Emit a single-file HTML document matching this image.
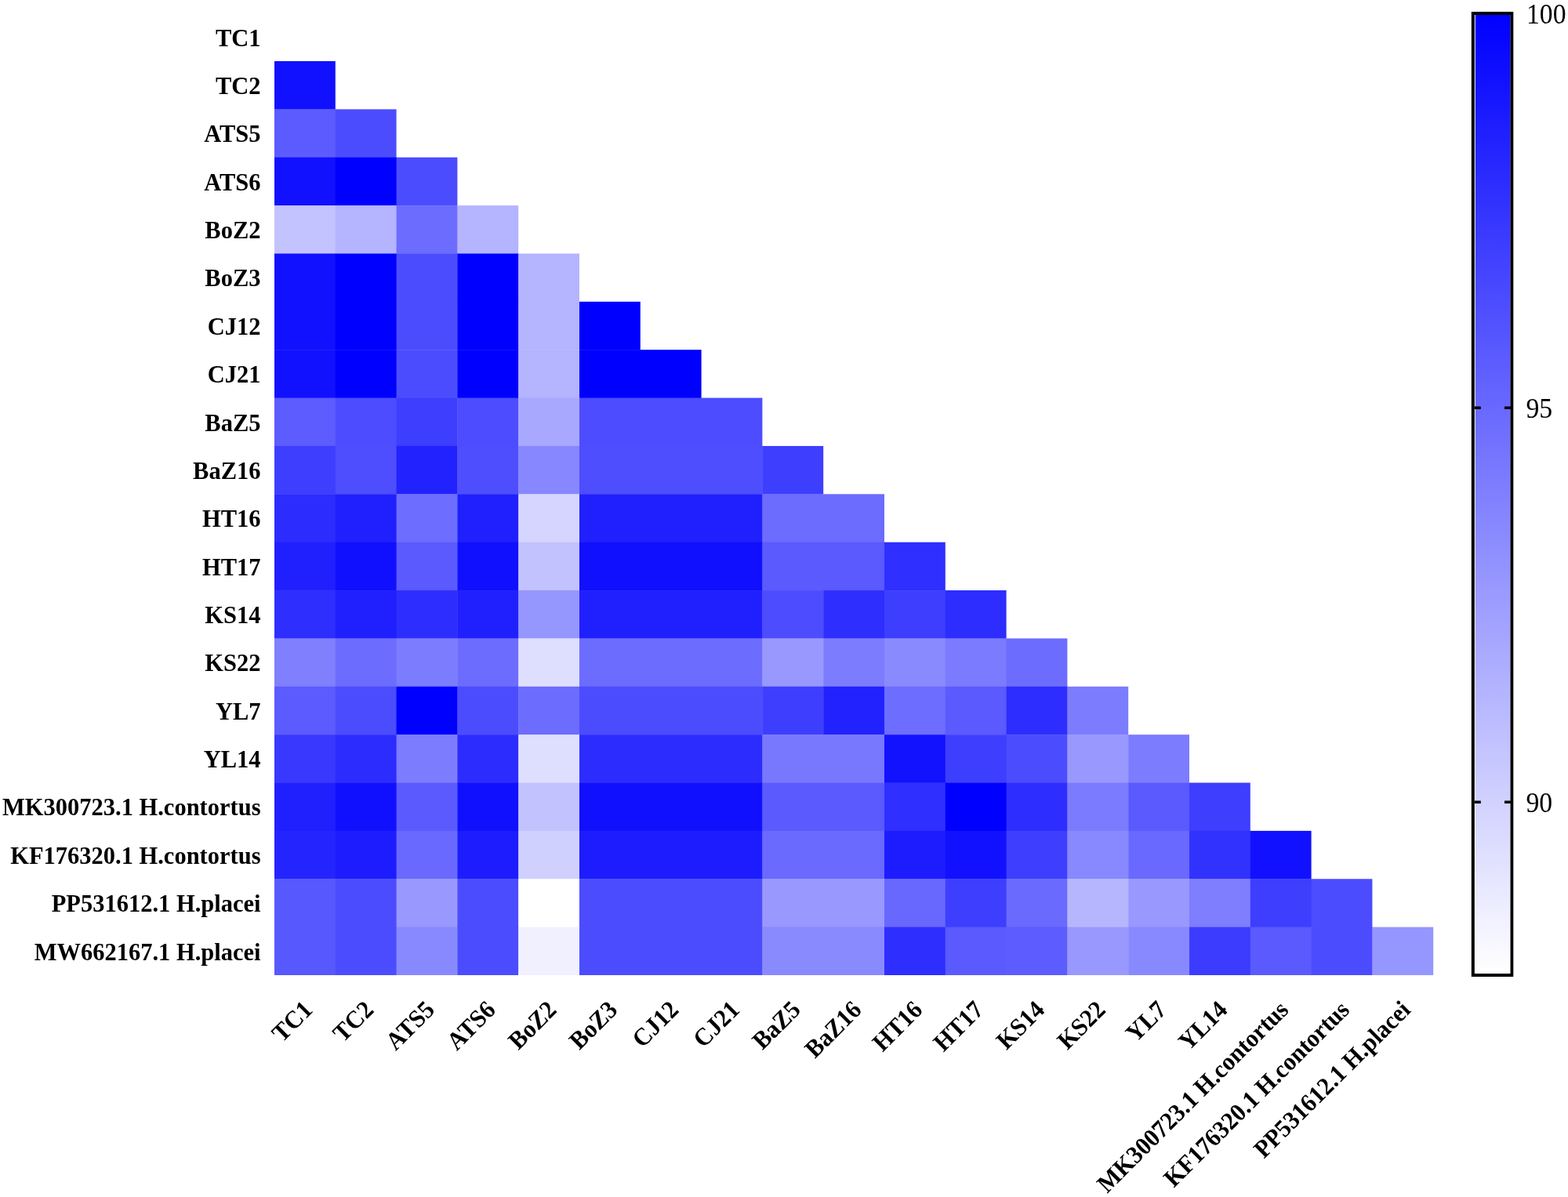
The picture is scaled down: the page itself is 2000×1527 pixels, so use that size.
<!DOCTYPE html>
<html><head><meta charset="utf-8"><style>
html,body{margin:0;padding:0;background:#fff;}
body{width:2000px;height:1527px;overflow:hidden;}
svg{display:block;}
.b{font-family:"Liberation Serif","Times New Roman",serif;font-weight:bold;font-size:32px;fill:#000;}
.r{font-family:"Liberation Serif","Times New Roman",serif;font-size:35.5px;fill:#000;}
</style></head><body>
<svg width="2000" height="1527" viewBox="0 0 2000 1527">
<defs><linearGradient id="cb" x1="0" y1="0" x2="0" y2="1"><stop offset="0" stop-color="#0000ff"/><stop offset="1" stop-color="#ffffff"/></linearGradient></defs>
<rect x="0" y="0" width="2000" height="1527" fill="#fff"/>
<rect x="350.00" y="78.00" width="77.80" height="61.77" fill="rgb(17,17,255)"/>
<rect x="350.00" y="139.37" width="78.20" height="61.77" fill="rgb(91,91,255)"/>
<rect x="427.80" y="139.37" width="77.80" height="61.77" fill="rgb(76,76,255)"/>
<rect x="350.00" y="200.74" width="78.20" height="61.77" fill="rgb(17,17,255)"/>
<rect x="427.80" y="200.74" width="78.20" height="61.77" fill="rgb(0,0,255)"/>
<rect x="505.60" y="200.74" width="77.80" height="61.77" fill="rgb(76,76,255)"/>
<rect x="350.00" y="262.11" width="78.20" height="61.77" fill="rgb(195,195,255)"/>
<rect x="427.80" y="262.11" width="78.20" height="61.77" fill="rgb(180,180,255)"/>
<rect x="505.60" y="262.11" width="78.20" height="61.77" fill="rgb(108,108,255)"/>
<rect x="583.40" y="262.11" width="77.80" height="61.77" fill="rgb(180,180,255)"/>
<rect x="350.00" y="323.47" width="78.20" height="61.77" fill="rgb(17,17,255)"/>
<rect x="427.80" y="323.47" width="78.20" height="61.77" fill="rgb(0,0,255)"/>
<rect x="505.60" y="323.47" width="78.20" height="61.77" fill="rgb(76,76,255)"/>
<rect x="583.40" y="323.47" width="78.20" height="61.77" fill="rgb(0,0,255)"/>
<rect x="661.20" y="323.47" width="77.80" height="61.77" fill="rgb(180,180,255)"/>
<rect x="350.00" y="384.84" width="78.20" height="61.77" fill="rgb(17,17,255)"/>
<rect x="427.80" y="384.84" width="78.20" height="61.77" fill="rgb(0,0,255)"/>
<rect x="505.60" y="384.84" width="78.20" height="61.77" fill="rgb(76,76,255)"/>
<rect x="583.40" y="384.84" width="78.20" height="61.77" fill="rgb(0,0,255)"/>
<rect x="661.20" y="384.84" width="78.20" height="61.77" fill="rgb(180,180,255)"/>
<rect x="739.00" y="384.84" width="77.80" height="61.77" fill="rgb(0,0,255)"/>
<rect x="350.00" y="446.21" width="78.20" height="61.77" fill="rgb(17,17,255)"/>
<rect x="427.80" y="446.21" width="78.20" height="61.77" fill="rgb(0,0,255)"/>
<rect x="505.60" y="446.21" width="78.20" height="61.77" fill="rgb(76,76,255)"/>
<rect x="583.40" y="446.21" width="78.20" height="61.77" fill="rgb(0,0,255)"/>
<rect x="661.20" y="446.21" width="78.20" height="61.77" fill="rgb(180,180,255)"/>
<rect x="739.00" y="446.21" width="155.60" height="61.77" fill="rgb(0,0,255)"/>
<rect x="350.00" y="507.58" width="78.20" height="61.77" fill="rgb(92,92,255)"/>
<rect x="427.80" y="507.58" width="78.20" height="61.77" fill="rgb(77,77,255)"/>
<rect x="505.60" y="507.58" width="78.20" height="61.77" fill="rgb(62,62,255)"/>
<rect x="583.40" y="507.58" width="78.20" height="61.77" fill="rgb(77,77,255)"/>
<rect x="661.20" y="507.58" width="78.20" height="61.77" fill="rgb(168,168,255)"/>
<rect x="739.00" y="507.58" width="233.40" height="61.77" fill="rgb(77,77,255)"/>
<rect x="350.00" y="568.95" width="78.20" height="61.77" fill="rgb(62,62,255)"/>
<rect x="427.80" y="568.95" width="78.20" height="61.77" fill="rgb(78,78,255)"/>
<rect x="505.60" y="568.95" width="78.20" height="61.77" fill="rgb(34,34,255)"/>
<rect x="583.40" y="568.95" width="78.20" height="61.77" fill="rgb(78,78,255)"/>
<rect x="661.20" y="568.95" width="78.20" height="61.77" fill="rgb(135,135,255)"/>
<rect x="739.00" y="568.95" width="233.80" height="61.77" fill="rgb(78,78,255)"/>
<rect x="972.40" y="568.95" width="77.80" height="61.77" fill="rgb(62,62,255)"/>
<rect x="350.00" y="630.32" width="78.20" height="61.77" fill="rgb(44,44,255)"/>
<rect x="427.80" y="630.32" width="78.20" height="61.77" fill="rgb(32,32,255)"/>
<rect x="505.60" y="630.32" width="78.20" height="61.77" fill="rgb(109,109,255)"/>
<rect x="583.40" y="630.32" width="78.20" height="61.77" fill="rgb(32,32,255)"/>
<rect x="661.20" y="630.32" width="78.20" height="61.77" fill="rgb(213,213,255)"/>
<rect x="739.00" y="630.32" width="233.80" height="61.77" fill="rgb(32,32,255)"/>
<rect x="972.40" y="630.32" width="155.60" height="61.77" fill="rgb(108,108,255)"/>
<rect x="350.00" y="691.68" width="78.20" height="61.77" fill="rgb(32,32,255)"/>
<rect x="427.80" y="691.68" width="78.20" height="61.77" fill="rgb(16,16,255)"/>
<rect x="505.60" y="691.68" width="78.20" height="61.77" fill="rgb(90,90,255)"/>
<rect x="583.40" y="691.68" width="78.20" height="61.77" fill="rgb(16,16,255)"/>
<rect x="661.20" y="691.68" width="78.20" height="61.77" fill="rgb(194,194,255)"/>
<rect x="739.00" y="691.68" width="233.80" height="61.77" fill="rgb(16,16,255)"/>
<rect x="972.40" y="691.68" width="156.00" height="61.77" fill="rgb(90,90,255)"/>
<rect x="1128.00" y="691.68" width="77.80" height="61.77" fill="rgb(47,47,255)"/>
<rect x="350.00" y="753.05" width="78.20" height="61.77" fill="rgb(46,46,255)"/>
<rect x="427.80" y="753.05" width="78.20" height="61.77" fill="rgb(32,32,255)"/>
<rect x="505.60" y="753.05" width="78.20" height="61.77" fill="rgb(45,45,255)"/>
<rect x="583.40" y="753.05" width="78.20" height="61.77" fill="rgb(32,32,255)"/>
<rect x="661.20" y="753.05" width="78.20" height="61.77" fill="rgb(150,150,255)"/>
<rect x="739.00" y="753.05" width="233.80" height="61.77" fill="rgb(32,32,255)"/>
<rect x="972.40" y="753.05" width="78.20" height="61.77" fill="rgb(77,77,255)"/>
<rect x="1050.20" y="753.05" width="78.20" height="61.77" fill="rgb(46,46,255)"/>
<rect x="1128.00" y="753.05" width="78.20" height="61.77" fill="rgb(62,62,255)"/>
<rect x="1205.80" y="753.05" width="77.80" height="61.77" fill="rgb(45,45,255)"/>
<rect x="350.00" y="814.42" width="78.20" height="61.77" fill="rgb(128,128,255)"/>
<rect x="427.80" y="814.42" width="78.20" height="61.77" fill="rgb(108,108,255)"/>
<rect x="505.60" y="814.42" width="78.20" height="61.77" fill="rgb(124,124,255)"/>
<rect x="583.40" y="814.42" width="78.20" height="61.77" fill="rgb(108,108,255)"/>
<rect x="661.20" y="814.42" width="78.20" height="61.77" fill="rgb(222,222,255)"/>
<rect x="739.00" y="814.42" width="233.80" height="61.77" fill="rgb(108,108,255)"/>
<rect x="972.40" y="814.42" width="78.20" height="61.77" fill="rgb(152,152,255)"/>
<rect x="1050.20" y="814.42" width="78.20" height="61.77" fill="rgb(124,124,255)"/>
<rect x="1128.00" y="814.42" width="78.20" height="61.77" fill="rgb(138,138,255)"/>
<rect x="1205.80" y="814.42" width="78.20" height="61.77" fill="rgb(123,123,255)"/>
<rect x="1283.60" y="814.42" width="77.80" height="61.77" fill="rgb(108,108,255)"/>
<rect x="350.00" y="875.79" width="78.20" height="61.77" fill="rgb(91,91,255)"/>
<rect x="427.80" y="875.79" width="78.20" height="61.77" fill="rgb(76,76,255)"/>
<rect x="505.60" y="875.79" width="78.20" height="61.77" fill="rgb(0,0,255)"/>
<rect x="583.40" y="875.79" width="78.20" height="61.77" fill="rgb(76,76,255)"/>
<rect x="661.20" y="875.79" width="78.20" height="61.77" fill="rgb(108,108,255)"/>
<rect x="739.00" y="875.79" width="233.80" height="61.77" fill="rgb(76,76,255)"/>
<rect x="972.40" y="875.79" width="78.20" height="61.77" fill="rgb(62,62,255)"/>
<rect x="1050.20" y="875.79" width="78.20" height="61.77" fill="rgb(34,34,255)"/>
<rect x="1128.00" y="875.79" width="78.20" height="61.77" fill="rgb(109,109,255)"/>
<rect x="1205.80" y="875.79" width="78.20" height="61.77" fill="rgb(90,90,255)"/>
<rect x="1283.60" y="875.79" width="78.20" height="61.77" fill="rgb(45,45,255)"/>
<rect x="1361.40" y="875.79" width="77.80" height="61.77" fill="rgb(124,124,255)"/>
<rect x="350.00" y="937.16" width="78.20" height="61.77" fill="rgb(56,56,255)"/>
<rect x="427.80" y="937.16" width="78.20" height="61.77" fill="rgb(44,44,255)"/>
<rect x="505.60" y="937.16" width="78.20" height="61.77" fill="rgb(124,124,255)"/>
<rect x="583.40" y="937.16" width="78.20" height="61.77" fill="rgb(44,44,255)"/>
<rect x="661.20" y="937.16" width="78.20" height="61.77" fill="rgb(222,222,255)"/>
<rect x="739.00" y="937.16" width="233.80" height="61.77" fill="rgb(44,44,255)"/>
<rect x="972.40" y="937.16" width="156.00" height="61.77" fill="rgb(120,120,255)"/>
<rect x="1128.00" y="937.16" width="78.20" height="61.77" fill="rgb(18,18,255)"/>
<rect x="1205.80" y="937.16" width="78.20" height="61.77" fill="rgb(62,62,255)"/>
<rect x="1283.60" y="937.16" width="78.20" height="61.77" fill="rgb(76,76,255)"/>
<rect x="1361.40" y="937.16" width="78.20" height="61.77" fill="rgb(152,152,255)"/>
<rect x="1439.20" y="937.16" width="77.80" height="61.77" fill="rgb(124,124,255)"/>
<rect x="350.00" y="998.53" width="78.20" height="61.77" fill="rgb(32,32,255)"/>
<rect x="427.80" y="998.53" width="78.20" height="61.77" fill="rgb(16,16,255)"/>
<rect x="505.60" y="998.53" width="78.20" height="61.77" fill="rgb(90,90,255)"/>
<rect x="583.40" y="998.53" width="78.20" height="61.77" fill="rgb(16,16,255)"/>
<rect x="661.20" y="998.53" width="78.20" height="61.77" fill="rgb(194,194,255)"/>
<rect x="739.00" y="998.53" width="233.80" height="61.77" fill="rgb(16,16,255)"/>
<rect x="972.40" y="998.53" width="156.00" height="61.77" fill="rgb(90,90,255)"/>
<rect x="1128.00" y="998.53" width="78.20" height="61.77" fill="rgb(47,47,255)"/>
<rect x="1205.80" y="998.53" width="78.20" height="61.77" fill="rgb(0,0,255)"/>
<rect x="1283.60" y="998.53" width="78.20" height="61.77" fill="rgb(45,45,255)"/>
<rect x="1361.40" y="998.53" width="78.20" height="61.77" fill="rgb(123,123,255)"/>
<rect x="1439.20" y="998.53" width="78.20" height="61.77" fill="rgb(90,90,255)"/>
<rect x="1517.00" y="998.53" width="77.80" height="61.77" fill="rgb(62,62,255)"/>
<rect x="350.00" y="1059.89" width="78.20" height="61.77" fill="rgb(36,36,255)"/>
<rect x="427.80" y="1059.89" width="78.20" height="61.77" fill="rgb(28,28,255)"/>
<rect x="505.60" y="1059.89" width="78.20" height="61.77" fill="rgb(105,105,255)"/>
<rect x="583.40" y="1059.89" width="78.20" height="61.77" fill="rgb(28,28,255)"/>
<rect x="661.20" y="1059.89" width="78.20" height="61.77" fill="rgb(208,208,255)"/>
<rect x="739.00" y="1059.89" width="233.80" height="61.77" fill="rgb(28,28,255)"/>
<rect x="972.40" y="1059.89" width="156.00" height="61.77" fill="rgb(106,106,255)"/>
<rect x="1128.00" y="1059.89" width="78.20" height="61.77" fill="rgb(28,28,255)"/>
<rect x="1205.80" y="1059.89" width="78.20" height="61.77" fill="rgb(17,17,255)"/>
<rect x="1283.60" y="1059.89" width="78.20" height="61.77" fill="rgb(62,62,255)"/>
<rect x="1361.40" y="1059.89" width="78.20" height="61.77" fill="rgb(136,136,255)"/>
<rect x="1439.20" y="1059.89" width="78.20" height="61.77" fill="rgb(105,105,255)"/>
<rect x="1517.00" y="1059.89" width="78.20" height="61.77" fill="rgb(50,50,255)"/>
<rect x="1594.80" y="1059.89" width="77.80" height="61.77" fill="rgb(17,17,255)"/>
<rect x="350.00" y="1121.26" width="78.20" height="61.77" fill="rgb(88,88,255)"/>
<rect x="427.80" y="1121.26" width="78.20" height="61.77" fill="rgb(76,76,255)"/>
<rect x="505.60" y="1121.26" width="78.20" height="61.77" fill="rgb(152,152,255)"/>
<rect x="583.40" y="1121.26" width="78.20" height="61.77" fill="rgb(76,76,255)"/>
<rect x="661.20" y="1121.26" width="78.20" height="61.77" fill="rgb(255,255,255)"/>
<rect x="739.00" y="1121.26" width="233.80" height="61.77" fill="rgb(76,76,255)"/>
<rect x="972.40" y="1121.26" width="156.00" height="61.77" fill="rgb(152,152,255)"/>
<rect x="1128.00" y="1121.26" width="78.20" height="61.77" fill="rgb(104,104,255)"/>
<rect x="1205.80" y="1121.26" width="78.20" height="61.77" fill="rgb(62,62,255)"/>
<rect x="1283.60" y="1121.26" width="78.20" height="61.77" fill="rgb(106,106,255)"/>
<rect x="1361.40" y="1121.26" width="78.20" height="61.77" fill="rgb(182,182,255)"/>
<rect x="1439.20" y="1121.26" width="78.20" height="61.77" fill="rgb(152,152,255)"/>
<rect x="1517.00" y="1121.26" width="78.20" height="61.77" fill="rgb(126,126,255)"/>
<rect x="1594.80" y="1121.26" width="78.20" height="61.77" fill="rgb(62,62,255)"/>
<rect x="1672.60" y="1121.26" width="77.80" height="61.77" fill="rgb(76,76,255)"/>
<rect x="350.00" y="1182.63" width="78.20" height="61.37" fill="rgb(88,88,255)"/>
<rect x="427.80" y="1182.63" width="78.20" height="61.37" fill="rgb(76,76,255)"/>
<rect x="505.60" y="1182.63" width="78.20" height="61.37" fill="rgb(137,137,255)"/>
<rect x="583.40" y="1182.63" width="78.20" height="61.37" fill="rgb(76,76,255)"/>
<rect x="661.20" y="1182.63" width="78.20" height="61.37" fill="rgb(240,240,255)"/>
<rect x="739.00" y="1182.63" width="233.80" height="61.37" fill="rgb(76,76,255)"/>
<rect x="972.40" y="1182.63" width="156.00" height="61.37" fill="rgb(138,138,255)"/>
<rect x="1128.00" y="1182.63" width="78.20" height="61.37" fill="rgb(46,46,255)"/>
<rect x="1205.80" y="1182.63" width="78.20" height="61.37" fill="rgb(90,90,255)"/>
<rect x="1283.60" y="1182.63" width="78.20" height="61.37" fill="rgb(92,92,255)"/>
<rect x="1361.40" y="1182.63" width="78.20" height="61.37" fill="rgb(152,152,255)"/>
<rect x="1439.20" y="1182.63" width="78.20" height="61.37" fill="rgb(137,137,255)"/>
<rect x="1517.00" y="1182.63" width="78.20" height="61.37" fill="rgb(60,60,255)"/>
<rect x="1594.80" y="1182.63" width="78.20" height="61.37" fill="rgb(90,90,255)"/>
<rect x="1672.60" y="1182.63" width="78.20" height="61.37" fill="rgb(76,76,255)"/>
<rect x="1750.40" y="1182.63" width="77.80" height="61.37" fill="rgb(150,150,255)"/>
<text transform="translate(332.5,58.5) scale(0.953,1)" text-anchor="end" class="b">TC1</text>
<text transform="translate(332.5,119.9) scale(0.953,1)" text-anchor="end" class="b">TC2</text>
<text transform="translate(332.5,181.3) scale(0.953,1)" text-anchor="end" class="b">ATS5</text>
<text transform="translate(332.5,242.6) scale(0.953,1)" text-anchor="end" class="b">ATS6</text>
<text transform="translate(332.5,304.0) scale(0.953,1)" text-anchor="end" class="b">BoZ2</text>
<text transform="translate(332.5,365.4) scale(0.953,1)" text-anchor="end" class="b">BoZ3</text>
<text transform="translate(332.5,426.7) scale(0.953,1)" text-anchor="end" class="b">CJ12</text>
<text transform="translate(332.5,488.1) scale(0.953,1)" text-anchor="end" class="b">CJ21</text>
<text transform="translate(332.5,549.5) scale(0.953,1)" text-anchor="end" class="b">BaZ5</text>
<text transform="translate(332.5,610.8) scale(0.953,1)" text-anchor="end" class="b">BaZ16</text>
<text transform="translate(332.5,672.2) scale(0.953,1)" text-anchor="end" class="b">HT16</text>
<text transform="translate(332.5,733.6) scale(0.953,1)" text-anchor="end" class="b">HT17</text>
<text transform="translate(332.5,794.9) scale(0.953,1)" text-anchor="end" class="b">KS14</text>
<text transform="translate(332.5,856.3) scale(0.953,1)" text-anchor="end" class="b">KS22</text>
<text transform="translate(332.5,917.7) scale(0.953,1)" text-anchor="end" class="b">YL7</text>
<text transform="translate(332.5,979.0) scale(0.953,1)" text-anchor="end" class="b">YL14</text>
<text transform="translate(332.5,1040.4) scale(0.953,1)" text-anchor="end" class="b">MK300723.1 H.contortus</text>
<text transform="translate(332.5,1101.8) scale(0.953,1)" text-anchor="end" class="b">KF176320.1 H.contortus</text>
<text transform="translate(332.5,1163.1) scale(0.953,1)" text-anchor="end" class="b">PP531612.1 H.placei</text>
<text transform="translate(332.5,1224.5) scale(0.953,1)" text-anchor="end" class="b">MW662167.1 H.placei</text>
<text transform="translate(400.4,1290) rotate(-45) scale(0.953,1)" text-anchor="end" class="b">TC1</text>
<text transform="translate(478.2,1290) rotate(-45) scale(0.953,1)" text-anchor="end" class="b">TC2</text>
<text transform="translate(556.0,1290) rotate(-45) scale(0.953,1)" text-anchor="end" class="b">ATS5</text>
<text transform="translate(633.8,1290) rotate(-45) scale(0.953,1)" text-anchor="end" class="b">ATS6</text>
<text transform="translate(711.6,1290) rotate(-45) scale(0.953,1)" text-anchor="end" class="b">BoZ2</text>
<text transform="translate(789.4,1290) rotate(-45) scale(0.953,1)" text-anchor="end" class="b">BoZ3</text>
<text transform="translate(867.2,1290) rotate(-45) scale(0.953,1)" text-anchor="end" class="b">CJ12</text>
<text transform="translate(945.0,1290) rotate(-45) scale(0.953,1)" text-anchor="end" class="b">CJ21</text>
<text transform="translate(1022.8,1290) rotate(-45) scale(0.953,1)" text-anchor="end" class="b">BaZ5</text>
<text transform="translate(1100.6,1290) rotate(-45) scale(0.953,1)" text-anchor="end" class="b">BaZ16</text>
<text transform="translate(1178.4,1290) rotate(-45) scale(0.953,1)" text-anchor="end" class="b">HT16</text>
<text transform="translate(1256.2,1290) rotate(-45) scale(0.953,1)" text-anchor="end" class="b">HT17</text>
<text transform="translate(1334.0,1290) rotate(-45) scale(0.953,1)" text-anchor="end" class="b">KS14</text>
<text transform="translate(1411.8,1290) rotate(-45) scale(0.953,1)" text-anchor="end" class="b">KS22</text>
<text transform="translate(1489.6,1290) rotate(-45) scale(0.953,1)" text-anchor="end" class="b">YL7</text>
<text transform="translate(1567.4,1290) rotate(-45) scale(0.953,1)" text-anchor="end" class="b">YL14</text>
<text transform="translate(1645.2,1290) rotate(-45) scale(0.953,1)" text-anchor="end" class="b">MK300723.1 H.contortus</text>
<text transform="translate(1723.0,1290) rotate(-45) scale(0.953,1)" text-anchor="end" class="b">KF176320.1 H.contortus</text>
<text transform="translate(1800.8,1290) rotate(-45) scale(0.953,1)" text-anchor="end" class="b">PP531612.1 H.placei</text>
<rect x="1878.8" y="17" width="49.5" height="1227" fill="#fff" stroke="#000" stroke-width="4"/>
<rect x="1881.8" y="19" width="44.5" height="1223" fill="url(#cb)"/>
<path d="M1880.8 520.2h8M1919 520.2h8M1880.8 1023.2h8M1919 1023.2h8" stroke="#000" stroke-width="3.5"/>
<text transform="translate(1947,29.5) scale(0.95,1)" class="r">100</text>
<text transform="translate(1946.5,532.5) scale(0.95,1)" class="r">95</text>
<text transform="translate(1946.5,1035.5) scale(0.95,1)" class="r">90</text>
</svg>
</body></html>
